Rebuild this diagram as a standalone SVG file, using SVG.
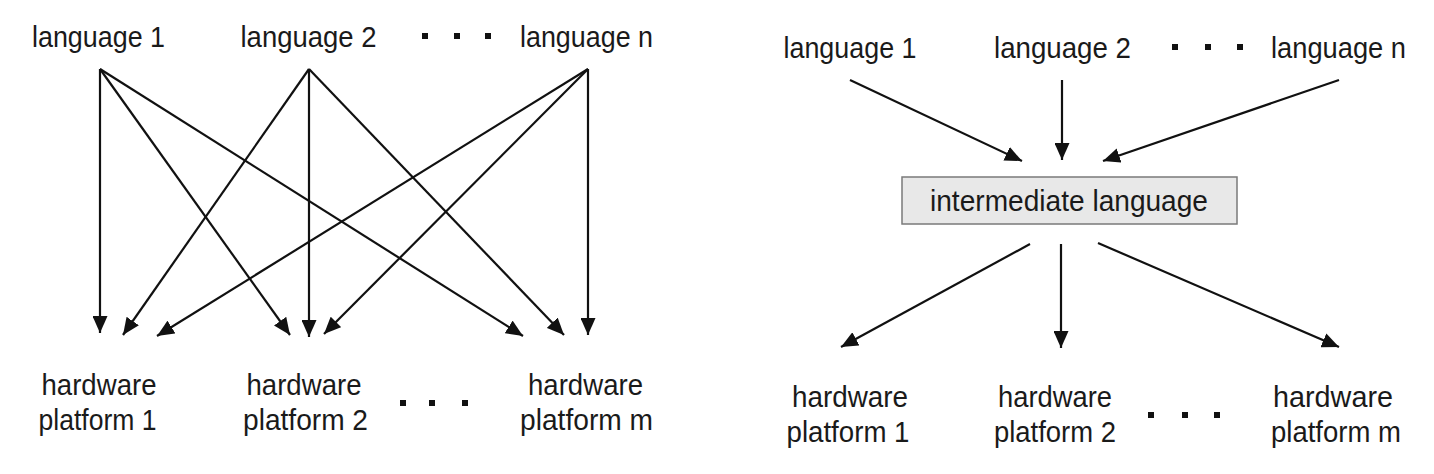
<svg xmlns="http://www.w3.org/2000/svg" width="1434" height="474" viewBox="0 0 1434 474">
  <style>
    .lbl { font-family: "Liberation Sans", Arial, sans-serif; font-size: 30px; fill: #1a1a1a; text-anchor: middle; }
    .conn line { stroke: #111; stroke-width: 2.2; marker-end: url(#ah); }
    .dot { fill: #111; }
    .box { fill: #e8e8e8; stroke: #7a7a7a; stroke-width: 1.5; }
  </style>
  <defs>
    <marker id="ah" markerUnits="userSpaceOnUse" markerWidth="17" markerHeight="15" refX="17" refY="7.5" orient="auto" viewBox="0 0 17 15">
      <path d="M0,0 L17,7.5 L0,15 z" fill="#111"/>
    </marker>
  </defs>
  <rect width="1434" height="474" fill="#fff"/>

  <!-- Left diagram nodes -->
  <g id="L-lang1"><text class="lbl" x="98.5" y="47" textLength="133" lengthAdjust="spacingAndGlyphs">language 1</text></g>
  <g id="L-lang2"><text class="lbl" x="308.5" y="47" textLength="136" lengthAdjust="spacingAndGlyphs">language 2</text></g>
  <g id="L-dots-top">
    <rect class="dot" x="422" y="33" width="6" height="6"/>
    <rect class="dot" x="454" y="33" width="6" height="6"/>
    <rect class="dot" x="485" y="33" width="6" height="6"/>
  </g>
  <g id="L-langn"><text class="lbl" x="586.5" y="47" textLength="133" lengthAdjust="spacingAndGlyphs">language n</text></g>

  <g id="L-hw1">
    <text class="lbl" x="99" y="395" textLength="115" lengthAdjust="spacingAndGlyphs">hardware</text>
    <text class="lbl" x="97.5" y="430" textLength="118" lengthAdjust="spacingAndGlyphs">platform 1</text>
  </g>
  <g id="L-hw2">
    <text class="lbl" x="304" y="395" textLength="115" lengthAdjust="spacingAndGlyphs">hardware</text>
    <text class="lbl" x="305.5" y="430" textLength="125" lengthAdjust="spacingAndGlyphs">platform 2</text>
  </g>
  <g id="L-dots-bottom">
    <rect class="dot" x="400" y="400" width="6" height="6"/>
    <rect class="dot" x="429" y="400" width="6" height="6"/>
    <rect class="dot" x="462" y="400" width="6" height="6"/>
  </g>
  <g id="L-hwm">
    <text class="lbl" x="585.5" y="395" textLength="115" lengthAdjust="spacingAndGlyphs">hardware</text>
    <text class="lbl" x="586.5" y="430" textLength="133" lengthAdjust="spacingAndGlyphs">platform m</text>
  </g>

  <!-- Right diagram nodes -->
  <g id="R-lang1"><text class="lbl" x="850" y="58" textLength="133" lengthAdjust="spacingAndGlyphs">language 1</text></g>
  <g id="R-lang2"><text class="lbl" x="1062.5" y="58" textLength="137" lengthAdjust="spacingAndGlyphs">language 2</text></g>
  <g id="R-dots-top">
    <rect class="dot" x="1172" y="44" width="6" height="6"/>
    <rect class="dot" x="1205" y="44" width="6" height="6"/>
    <rect class="dot" x="1237" y="44" width="6" height="6"/>
  </g>
  <g id="R-langn"><text class="lbl" x="1338.5" y="58" textLength="135" lengthAdjust="spacingAndGlyphs">language n</text></g>

  <g id="R-inter">
    <rect class="box" x="902" y="177" width="335" height="47"/>
    <text class="lbl" x="1069" y="211" textLength="278" lengthAdjust="spacingAndGlyphs">intermediate language</text>
  </g>

  <g id="R-hw1">
    <text class="lbl" x="850" y="407" textLength="116" lengthAdjust="spacingAndGlyphs">hardware</text>
    <text class="lbl" x="848" y="442" textLength="123" lengthAdjust="spacingAndGlyphs">platform 1</text>
  </g>
  <g id="R-hw2">
    <text class="lbl" x="1055" y="407" textLength="114" lengthAdjust="spacingAndGlyphs">hardware</text>
    <text class="lbl" x="1055" y="442" textLength="122" lengthAdjust="spacingAndGlyphs">platform 2</text>
  </g>
  <g id="R-dots-bottom">
    <rect class="dot" x="1148" y="412" width="6" height="6"/>
    <rect class="dot" x="1182" y="412" width="6" height="6"/>
    <rect class="dot" x="1214" y="412" width="6" height="6"/>
  </g>
  <g id="R-hwm">
    <text class="lbl" x="1333" y="407" textLength="120" lengthAdjust="spacingAndGlyphs">hardware</text>
    <text class="lbl" x="1336" y="442" textLength="130" lengthAdjust="spacingAndGlyphs">platform m</text>
  </g>

  <!-- Connectors -->
  <g id="connectors" class="conn">
    <line x1="100" y1="69" x2="100" y2="333"/>
    <line x1="100" y1="69" x2="290" y2="335"/>
    <line x1="100" y1="69" x2="523" y2="336"/>
    <line x1="309" y1="69" x2="123" y2="335"/>
    <line x1="309" y1="69" x2="309" y2="337"/>
    <line x1="309" y1="69" x2="564" y2="335"/>
    <line x1="588" y1="69" x2="157" y2="336"/>
    <line x1="588" y1="69" x2="324" y2="334"/>
    <line x1="588" y1="69" x2="588" y2="335"/>

    <line x1="850" y1="80" x2="1022" y2="161"/>
    <line x1="1062" y1="80" x2="1062" y2="160"/>
    <line x1="1339" y1="80" x2="1103" y2="161"/>

    <line x1="1030" y1="244" x2="841" y2="347"/>
    <line x1="1061" y1="244" x2="1061" y2="348"/>
    <line x1="1098" y1="243" x2="1339" y2="347"/>
  </g>
</svg>
